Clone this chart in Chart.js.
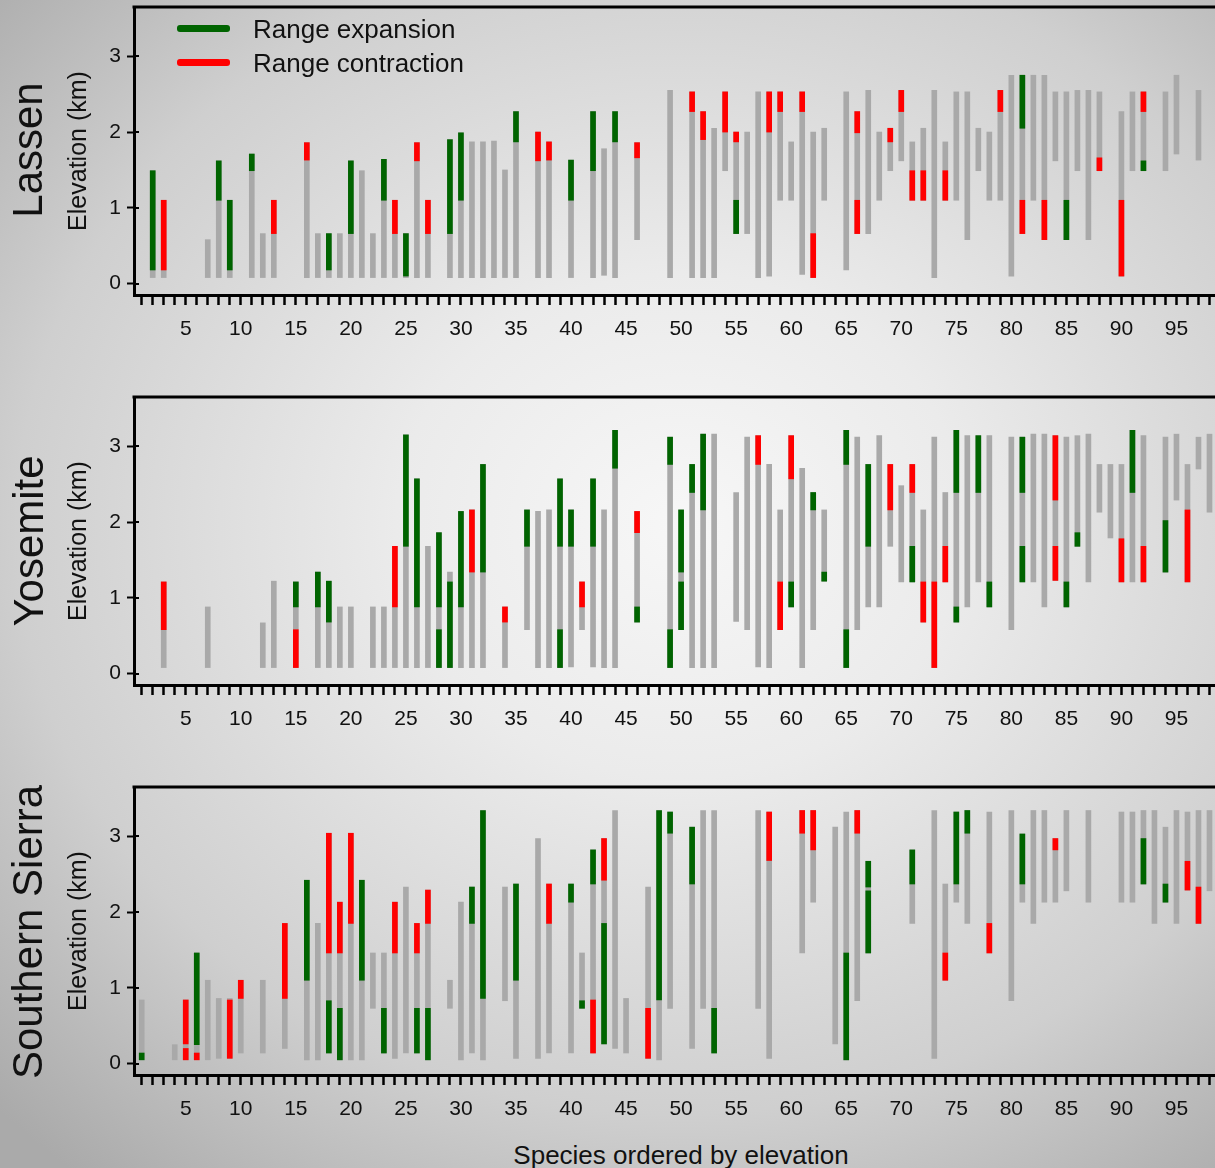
<!DOCTYPE html>
<html>
<head>
<meta charset="utf-8">
<script src="https://cdn.jsdelivr.net/npm/chart.js@4.4.0/dist/chart.umd.min.js"></script>
<style>
  html, body { margin: 0; padding: 0; }
  body {
    width: 1215px; height: 1168px; position: relative; overflow: hidden;
    background: radial-gradient(ellipse 78% 72% at 56% 45%, #f7f7f7 0%, #ebebeb 30%, #cfcfcf 70%, #aaaaaa 100%);
    font-family: "Liberation Sans", Arial, sans-serif; color: #111;
  }
  .panel { position: absolute; left: 0; width: 1215px; height: 345px; }
  .panel canvas { position: absolute; left: 0; top: 0; }
  .rot { position: absolute; white-space: nowrap; transform: translate(-50%, -50%) rotate(-90deg); }
  .region { font-size: 42px; }
  .ylab { font-size: 25px; }
  .leg { position: absolute; font-size: 26px; line-height: 1; white-space: nowrap; }
  .sw { position: absolute; height: 7px; border-radius: 3px; }
  .xtitle { position: absolute; left: 681px; top: 1155px; transform: translate(-50%, -50%); font-size: 26px; white-space: nowrap; }
</style>
</head>
<body>

<div class="panel" style="top:0px"><canvas id="lassen" width="1215" height="345"></canvas></div>
<div class="panel" style="top:390px"><canvas id="yosemite" width="1215" height="345"></canvas></div>
<div class="panel" style="top:780px"><canvas id="sierra" width="1215" height="345"></canvas></div>

<div class="rot region" style="left:28px; top:150px">Lassen</div>
<div class="rot ylab" style="left:77px; top:151px">Elevation (km)</div>
<div class="rot region" style="left:29px; top:541px">Yosemite</div>
<div class="rot ylab" style="left:77px; top:541px">Elevation (km)</div>
<div class="rot region" style="left:28px; top:932px">Southern Sierra</div>
<div class="rot ylab" style="left:77px; top:931px">Elevation (km)</div>

<div class="sw" style="left:177px; top:25px; width:53px; background:#006400"></div>
<div class="leg" style="left:253px; top:16px">Range expansion</div>
<div class="sw" style="left:177px; top:59px; width:53px; background:#ff0000"></div>
<div class="leg" style="left:253px; top:50px">Range contraction</div>

<div class="xtitle">Species ordered by elevation</div>

<script>
// ---------- data: [species #, low km, high km] ----------
const LASSEN_RANGE = [
  [2,0.08,1.49],[3,0.08,1.10],[7,0.08,0.58],[8,0.08,1.62],[9,0.08,1.10],[11,0.08,1.71],
  [12,0.08,0.66],[13,0.08,1.10],[16,0.08,1.86],[17,0.08,0.66],[18,0.08,0.66],[19,0.08,0.66],
  [20,0.08,1.62],[21,0.08,1.49],[22,0.08,0.66],[23,0.08,1.64],[24,0.08,1.10],[25,0.08,0.66],
  [26,0.08,1.86],[27,0.08,1.10],[29,0.08,1.90],[30,0.08,1.99],[31,0.08,1.87],[32,0.08,1.87],
  [33,0.08,1.88],[34,0.08,1.50],[35,0.08,2.27],[37,0.08,2.00],[38,0.08,1.87],[40,0.08,1.63],
  [42,0.08,2.27],[43,0.11,1.78],[44,0.08,2.27],[46,0.58,1.86],[49,0.08,2.55],[51,0.08,2.53],
  [52,0.08,2.27],[53,0.08,2.05],[54,1.49,2.53],[55,0.66,2.00],[56,0.66,2.00],[57,0.08,2.53],
  [58,0.10,2.53],[59,1.10,2.53],[60,1.10,1.87],[61,0.12,2.53],[62,0.08,2.00],[63,1.10,2.05],
  [65,0.18,2.53],[66,0.66,2.27],[67,0.66,2.55],[68,1.10,2.00],[69,1.49,2.05],[70,1.62,2.55],
  [71,1.10,1.87],[72,1.10,2.05],[73,0.08,2.55],[74,1.10,1.87],[75,1.10,2.53],[76,0.58,2.53],
  [77,1.49,2.05],[78,1.10,2.00],[79,1.10,2.55],[80,0.10,2.75],[81,0.66,2.75],[82,1.10,2.75],
  [83,0.58,2.75],[84,1.62,2.53],[85,0.58,2.53],[86,1.49,2.55],[87,0.58,2.55],[88,1.49,2.53],
  [90,0.10,2.27],[91,1.49,2.53],[92,1.49,2.53],[94,1.49,2.53],[95,1.71,2.75],[97,1.63,2.55]
];
const LASSEN_EXPANSION = [
  [2,0.18,1.49],[8,1.10,1.62],[9,0.18,1.10],[11,1.49,1.71],[18,0.18,0.66],[20,0.66,1.62],
  [23,1.10,1.64],[25,0.10,0.66],[29,0.66,1.90],[30,1.10,1.99],[35,1.87,2.27],[40,1.10,1.63],
  [42,1.49,2.27],[44,1.87,2.27],[55,0.66,1.10],[81,2.05,2.75],[85,0.58,1.10],[92,1.49,1.62]
];
const LASSEN_CONTRACTION = [
  [3,0.18,1.10],[13,0.66,1.10],[16,1.63,1.86],[24,0.66,1.10],[26,1.62,1.86],[27,0.66,1.10],
  [37,1.62,2.00],[38,1.63,1.87],[46,1.66,1.86],[51,2.27,2.53],[52,1.90,2.27],[54,2.00,2.53],
  [55,1.87,2.00],[58,2.00,2.53],[59,2.27,2.53],[61,2.27,2.53],[62,0.08,0.66],[66,1.99,2.27],
  [66,0.66,1.10],[69,1.87,2.05],[70,2.27,2.55],[71,1.10,1.49],[72,1.10,1.49],[74,1.10,1.49],
  [79,2.27,2.55],[81,0.66,1.10],[83,0.58,1.10],[88,1.49,1.66],[90,0.10,1.10],[92,2.27,2.53]
];

const YOSEMITE_RANGE = [
  [3,0.08,1.21],[7,0.08,0.88],[12,0.08,0.67],[13,0.08,1.22],[15,0.08,1.21],[17,0.08,1.34],
  [18,0.08,1.22],[19,0.08,0.88],[20,0.08,0.88],[22,0.08,0.88],[23,0.08,0.88],[24,0.08,1.68],
  [25,0.08,3.15],[26,0.08,2.57],[27,0.08,1.68],[28,0.08,1.86],[29,0.08,1.34],[30,0.08,2.14],
  [31,0.08,2.16],[32,0.08,2.76],[34,0.08,0.88],[36,0.58,2.16],[37,0.08,2.14],[38,0.08,2.16],
  [39,0.08,2.57],[40,0.09,2.16],[41,0.58,1.21],[42,0.09,2.57],[43,0.08,2.16],[44,0.08,3.21],
  [46,0.68,2.14],[49,0.08,3.12],[50,0.58,2.16],[51,0.08,2.76],[52,0.08,3.16],[53,0.08,3.16],
  [55,0.69,2.39],[56,0.58,3.12],[57,0.09,3.14],[58,0.08,2.76],[59,0.58,2.16],[60,0.88,3.14],
  [61,0.08,2.71],[62,0.58,2.39],[63,1.22,2.16],[65,0.08,3.21],[66,0.58,3.12],[67,0.88,2.76],
  [68,0.88,3.14],[69,1.68,2.76],[70,1.21,2.48],[71,1.21,2.76],[72,0.68,2.16],[73,0.08,3.12],
  [74,1.21,2.39],[75,0.68,3.21],[76,0.88,3.14],[77,1.21,3.14],[78,0.88,3.14],[80,0.58,3.12],
  [81,1.21,3.12],[82,1.21,3.16],[83,0.88,3.16],[84,1.23,3.14],[85,0.88,3.12],[86,1.68,3.14],
  [87,1.21,3.16],[88,2.13,2.76],[89,1.79,2.76],[90,1.21,2.76],[91,1.21,3.21],[92,1.21,3.14],
  [94,1.34,3.12],[95,2.29,3.16],[96,1.21,2.76],[97,2.70,3.12],[98,2.13,3.16]
];
const YOSEMITE_EXPANSION = [
  [15,0.88,1.21],[17,0.88,1.34],[18,0.68,1.22],[25,1.68,3.15],[26,0.88,2.57],[28,0.08,0.58],
  [28,0.88,1.86],[29,0.08,1.21],[30,0.88,2.14],[32,1.34,2.76],[36,1.68,2.16],[39,0.08,0.58],
  [39,1.68,2.57],[40,1.68,2.16],[42,1.68,2.57],[44,2.71,3.21],[46,0.68,0.88],[49,0.08,0.58],
  [49,2.76,3.12],[50,0.58,1.21],[50,1.34,2.16],[51,2.39,2.76],[52,2.16,3.16],[60,0.88,1.21],
  [62,2.16,2.39],[63,1.22,1.34],[65,0.08,0.58],[65,2.76,3.21],[67,1.68,2.76],[71,1.21,1.68],
  [75,0.68,0.88],[75,2.39,3.21],[77,2.39,3.14],[78,0.88,1.21],[81,1.21,1.68],[81,2.39,3.12],
  [85,0.88,1.21],[86,1.68,1.86],[91,2.39,3.21],[94,1.34,2.02]
];
const YOSEMITE_CONTRACTION = [
  [3,0.58,1.21],[15,0.08,0.58],[24,0.88,1.68],[31,1.34,2.16],[34,0.68,0.88],[41,0.88,1.21],
  [46,1.86,2.14],[57,2.76,3.14],[59,0.58,1.21],[60,2.57,3.14],[69,2.16,2.76],[71,2.39,2.76],
  [72,0.68,1.21],[73,0.08,1.21],[74,1.21,1.68],[84,1.23,1.68],[84,2.29,3.14],[90,1.21,1.78],
  [92,1.21,1.68],[96,1.21,2.16]
];

const SIERRA_RANGE = [
  [1,0.05,0.84],[4,0.05,0.25],[5,0.05,0.84],[6,0.05,1.46],[7,0.05,1.10],[8,0.07,0.86],
  [9,0.07,0.86],[10,0.14,1.10],[12,0.14,1.10],[14,0.20,1.85],[16,0.05,2.42],[17,0.05,1.85],
  [18,0.14,3.04],[19,0.05,2.13],[20,0.05,3.04],[21,0.05,2.42],[22,0.73,1.46],[23,0.14,1.46],
  [24,0.07,2.13],[25,0.14,2.33],[26,0.14,1.85],[27,0.05,2.29],[29,0.73,1.10],[30,0.05,2.13],
  [31,0.14,2.33],[32,0.05,3.34],[34,0.83,2.33],[35,0.07,2.37],[37,0.07,2.97],[38,0.14,2.37],
  [40,0.14,2.37],[41,0.73,1.46],[42,0.14,2.82],[43,0.26,2.97],[44,0.20,3.34],[45,0.14,0.86],
  [47,0.07,2.33],[48,0.05,3.34],[49,0.73,3.32],[51,0.20,3.12],[52,0.73,3.34],[53,0.14,3.34],
  [57,0.73,3.34],[58,0.07,3.32],[61,1.46,3.34],[62,2.13,3.34],[64,0.26,3.12],[65,0.05,3.32],
  [66,0.83,3.34],[67,1.46,2.67],[71,1.85,2.82],[73,0.07,3.34],[74,1.10,2.37],[75,2.13,3.32],
  [76,1.85,3.34],[78,1.46,3.32],[80,0.83,3.34],[81,2.13,3.03],[82,1.85,3.34],[83,2.13,3.34],
  [84,2.13,2.97],[85,2.28,3.34],[87,2.13,3.34],[90,2.13,3.32],[91,2.13,3.32],[92,2.37,3.34],
  [93,1.85,3.34],[94,2.13,3.12],[95,1.85,3.34],[96,2.29,3.32],[97,1.85,3.34],[98,2.28,3.34]
];
const SIERRA_EXPANSION = [
  [1,0.05,0.14],[6,0.25,1.46],[16,1.10,2.42],[18,0.14,0.83],[19,0.05,0.73],[21,1.10,2.42],
  [23,0.14,0.73],[26,0.14,0.73],[27,0.05,0.73],[31,1.85,2.33],[32,0.86,3.34],[35,1.10,2.37],
  [40,2.13,2.37],[41,0.73,0.83],[42,2.37,2.82],[43,0.26,1.85],[48,0.84,3.34],[49,3.04,3.32],
  [51,2.37,3.12],[53,0.14,0.73],[65,0.05,1.46],[67,1.46,2.28],[67,2.33,2.67],[71,2.37,2.82],
  [75,2.37,3.32],[76,3.04,3.34],[81,2.37,3.03],[92,2.37,2.97],[94,2.13,2.37]
];
const SIERRA_CONTRACTION = [
  [5,0.05,0.20],[5,0.26,0.84],[6,0.05,0.14],[9,0.07,0.84],[10,0.86,1.10],[14,0.86,1.85],
  [18,1.46,3.04],[19,1.46,2.13],[20,1.85,3.04],[24,1.46,2.13],[26,1.46,1.85],[27,1.85,2.29],
  [38,1.85,2.37],[42,0.14,0.84],[43,2.42,2.97],[47,0.07,0.73],[58,2.68,3.32],[61,3.04,3.34],
  [62,2.82,3.34],[66,3.04,3.34],[74,1.10,1.46],[78,1.46,1.85],[84,2.82,2.97],[96,2.29,2.67],
  [97,1.85,2.33]
];

const SPECIES_TICKS = Array.from({ length: 98 }, (_, i) => i + 1);
const ELEVATION_TICKS = [0, 1, 2, 3];

// ---------- style ----------
const FONT = "'Liberation Sans', Arial, sans-serif";
const GRAY = "#a9a9a9";
const GREEN = "#006400";
const RED = "#ff0000";

// top frame line + short inward part of the elevation ticks
const frame = {
  id: "frame",
  afterDraw(chart) {
    const { ctx, chartArea: a, scales } = chart;
    ctx.save();
    ctx.strokeStyle = "#000";
    ctx.lineWidth = 3;
    ctx.beginPath();
    ctx.moveTo(a.left - 1.5, a.top);
    ctx.lineTo(a.right, a.top);
    ctx.stroke();
    ctx.lineWidth = 2;
    scales.y.ticks.forEach((t) => {
      const py = Math.round(scales.y.getPixelForValue(t.value));
      ctx.beginPath();
      ctx.moveTo(a.left, py);
      ctx.lineTo(a.left + 5, py);
      ctx.stroke();
    });
    ctx.restore();
  }
};

function toPoints(rows) {
  return rows.map((r) => ({ x: r[0], y: [r[1], r[2]] }));
}

function makePanel(id, ranges, expansion, contraction) {
  new Chart(document.getElementById(id), {
    type: "bar",
    data: {
      datasets: [
        { label: "Range", data: toPoints(ranges), backgroundColor: GRAY, order: 3 },
        { label: "Range expansion", data: toPoints(expansion), backgroundColor: GREEN, order: 1 },
        { label: "Range contraction", data: toPoints(contraction), backgroundColor: RED, order: 1 }
      ]
    },
    options: {
      responsive: false,
      animation: false,
      events: [],
      layout: { padding: { left: 0, right: 0, top: 7, bottom: 0 } },
      datasets: { bar: { grouped: false, barThickness: 5, borderWidth: 0 } },
      plugins: { legend: { display: false }, tooltip: { enabled: false } },
      scales: {
        x: {
          type: "linear",
          min: 0.3,
          max: 98.5,
          offset: false,
          afterBuildTicks: (s) => { s.ticks = SPECIES_TICKS.map((v) => ({ value: v })); },
          afterFit: (s) => { s.height = 50; s.paddingLeft = 0; s.paddingRight = 0; },
          grid: { display: true, offset: false, drawOnChartArea: false, drawTicks: true, tickLength: 10, tickWidth: 2.5, tickColor: "#000" },
          border: { display: true, color: "#000", width: 3 },
          ticks: {
            autoSkip: false, maxRotation: 0, minRotation: 0, padding: 12, color: "#111",
            font: { size: 21, family: FONT },
            callback: (v) => (v % 5 === 0 ? String(v) : "")
          }
        },
        y: {
          min: -0.15,
          max: 3.65,
          afterBuildTicks: (s) => { s.ticks = ELEVATION_TICKS.map((v) => ({ value: v })); },
          afterFit: (s) => { s.width = 134; s.paddingTop = 0; s.paddingBottom = 0; },
          grid: { display: true, drawOnChartArea: false, drawTicks: true, tickLength: 7, tickWidth: 2, tickColor: "#000" },
          border: { display: true, color: "#000", width: 3 },
          ticks: { padding: 6, color: "#111", font: { size: 21, family: FONT } }
        }
      }
    },
    plugins: [frame]
  });
}

makePanel("lassen", LASSEN_RANGE, LASSEN_EXPANSION, LASSEN_CONTRACTION);
makePanel("yosemite", YOSEMITE_RANGE, YOSEMITE_EXPANSION, YOSEMITE_CONTRACTION);
makePanel("sierra", SIERRA_RANGE, SIERRA_EXPANSION, SIERRA_CONTRACTION);
</script>
</body>
</html>
